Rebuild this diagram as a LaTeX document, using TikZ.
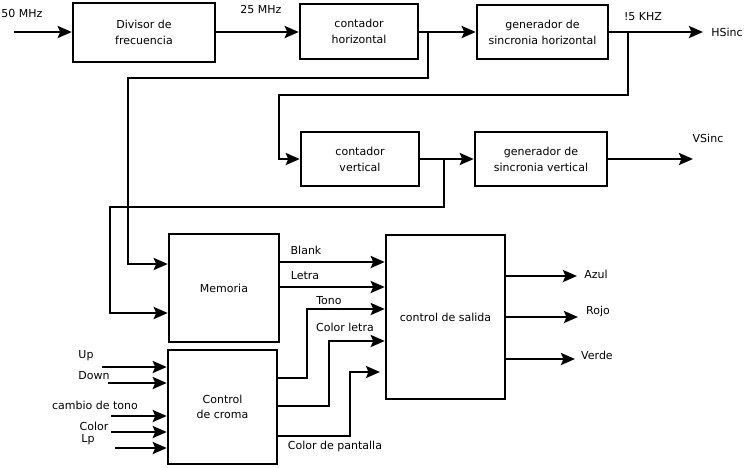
\documentclass[tikz,border=0pt]{standalone}
\usepackage{fontspec}
\setmainfont{DejaVu Sans}
\usetikzlibrary{arrows.meta}
\tikzset{
  blk/.style={draw,line width=2.5pt,align=center,inner sep=0pt},
  wire/.style={line width=2.5pt,-{Stealth[length=14pt,width=12pt,inset=2.5pt]}},
  lbl/.style={inner sep=0pt}
}
\begin{document}
\begin{tikzpicture}[x=1pt,y=-1pt,font=\fontsize{11}{16}\selectfont]
\useasboundingbox (0,0) rectangle (745,467);
% bloques
\node[blk,minimum width=142,minimum height=59] (div) at (144,32.5) {Divisor de\\frecuencia};
\node[blk,minimum width=118,minimum height=55] (ch) at (359,31.5) {contador\\horizontal};
\node[blk,minimum width=131,minimum height=54] (gh) at (542.5,32) {generador de\\sincronia horizontal};
\node[blk,minimum width=118,minimum height=54] (cv) at (360,159) {contador\\vertical};
\node[blk,minimum width=132,minimum height=54] (gv) at (541,159) {generador de\\sincronia vertical};
\node[blk,minimum width=110,minimum height=108] (mem) at (224,288) {Memoria};
\node[blk,minimum width=119,minimum height=164] (cs) at (445.5,317) {control de salida};
\node[blk,minimum width=109,minimum height=114,font=\fontsize{11}{15}\selectfont] (cc) at (222.5,407) {Control\\de croma};
% extremos libres
\coordinate (in50) at (14,32);
\coordinate (hsinc) at (703,32);
\coordinate (vsinc) at (693,159);
\coordinate (azul) at (577,276);
\coordinate (rojo) at (578,317);
\coordinate (verde) at (575,359);
\coordinate (cp) at (380,372);
\coordinate (up) at (102,367);
\coordinate (down) at (108,383);
\coordinate (cambio) at (111,416);
\coordinate (color) at (111,432);
\coordinate (lp) at (115,448);
\coordinate (b1) at (428,32);
\coordinate (b2) at (628,32);
\coordinate (b3) at (444,159);
% sincronia
\draw[wire] (in50) -- (in50 -| div.west);
\draw[wire] (div.east |- 0,32) -- (ch.west |- 0,32);
\draw[wire] (ch.east |- 0,32) -- (gh.west);
\draw[wire] (gh.east) -- (hsinc);
\draw[wire] (b1) -- (428,78) -| (128,264) -- (mem.west |- 0,264);
\draw[wire] (b2) -- (628,95) -| (279,159) -- (cv.west);
\draw[wire] (cv.east) -- (gv.west);
\draw[wire] (gv.east) -- (vsinc);
\draw[wire] (b3) -- (444,207) -| (110,313) -- (mem.west |- 0,313);
% memoria y croma
\draw[wire] (mem.east |- 0,262) -- (cs.west |- 0,262);
\draw[wire] (mem.east |- 0,287) -- (cs.west |- 0,287);
\draw[wire] (cc.east |- 0,378) -| (307,309) -- (cs.west |- 0,309);
\draw[wire] (cc.east |- 0,406) -| (329,341) -- (cs.west |- 0,341);
\draw[wire] (cc.east |- 0,436) -| (350,372) -- (cp);
\draw[wire] (up) -- (cc.west |- up);
\draw[wire] (down) -- (cc.west |- down);
\draw[wire] (cambio) -- (cc.west |- cambio);
\draw[wire] (color) -- (cc.west |- color);
\draw[wire] (lp) -- (cc.west |- lp);
% salidas
\draw[wire] (cs.east |- azul) -- (azul);
\draw[wire] (cs.east |- rojo) -- (rojo);
\draw[wire] (cs.east |- verde) -- (verde);
% etiquetas
\node[lbl] (t50) at (22,13) {50 MHz};
\node[lbl] (t25) at (261,9) {25 MHz};
\node[lbl] (t15) at (643,17) {!5 KHZ};
\node[lbl] (ths) at (727,32) {HSinc};
\node[lbl] (tvs) at (708,138) {VSinc};
\node[lbl] (tbl) at (306,250) {Blank};
\node[lbl] (tle) at (305,276) {Letra};
\node[lbl] (tto) at (329,301) {Tono};
\node[lbl] (tcl) at (345,327) {Color letra};
\node[lbl] (tcp) at (335,446) {Color de pantalla};
\node[lbl] (taz) at (596,274) {Azul};
\node[lbl] (tro) at (598,311) {Rojo};
\node[lbl] (tve) at (597,355) {Verde};
\node[lbl] (tup) at (86,356) {Up};
\node[lbl] (tdo) at (94,376) {Down};
\node[lbl] (tct) at (95,405) {cambio de tono};
\node[lbl] (tco) at (94,426) {Color};
\node[lbl] (tlp) at (88,440) {Lp};
\end{tikzpicture}
\end{document}
